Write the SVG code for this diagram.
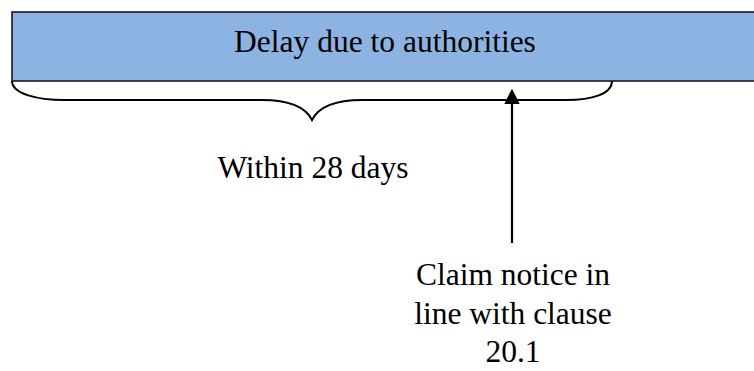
<svg xmlns="http://www.w3.org/2000/svg" width="754" height="371" viewBox="0 0 754 371">
  <style>
    .label { font-family: "Liberation Serif", "Times New Roman", serif; font-size: 31.5px; fill: #000; text-anchor: middle; }
    .bar { fill: #8DB3E2; stroke: #1a1a1a; stroke-width: 1.6; }
    .brace { fill: none; stroke: #000; stroke-width: 2; }
    .conn { fill: none; stroke: #000; stroke-width: 2.2; }
  </style>
  <defs>
    <marker id="arrowhead" viewBox="0 0 10 10" refX="0" refY="5" markerWidth="7" markerHeight="7" markerUnits="strokeWidth" orient="auto">
      <path d="M0,0 L10,5 L0,10 Z" fill="#000"/>
    </marker>
  </defs>

  <!-- top bar -->
  <g id="delay">
    <rect class="bar" x="12" y="12" width="760" height="69"/>
    <text class="label" x="385" y="52">Delay due to authorities</text>
  </g>

  <!-- curly brace under the bar -->
  <g id="period">
    <path class="brace" d="M12,81 C12,94 38,100 64,100 L262,100 C290,100 306,108 312,120 C318,108 334,100 362,100 L566,100 C592,100 612,94 612,81"/>
    <text class="label" x="313" y="178">Within 28 days</text>
  </g>

  <g id="claim">
    <text class="label" x="513" y="285">Claim notice in</text>
    <text class="label" x="513" y="324">line with clause</text>
    <text class="label" x="513" y="362">20.1</text>
  </g>

  <g id="connectors">
    <line class="conn" x1="512" y1="243" x2="512" y2="104" marker-end="url(#arrowhead)"/>
  </g>
</svg>
